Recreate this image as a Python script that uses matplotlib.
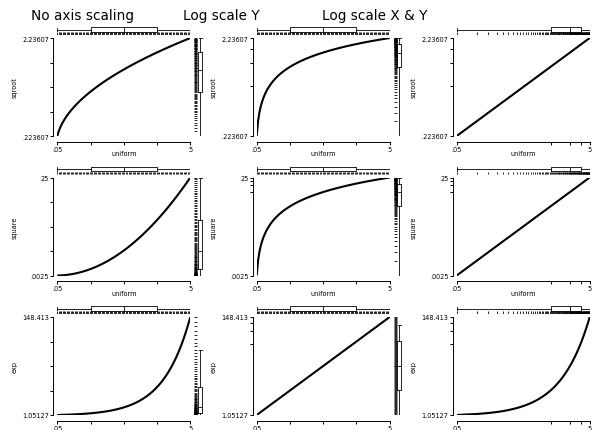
import matplotlib
matplotlib.use("Agg")
import matplotlib.pyplot as plt
import numpy as np
from matplotlib.ticker import NullLocator

# ---------------- data ----------------
uniform = [0.05, 0.10, 0.15, 0.20, 0.25, 0.30, 0.35, 0.40, 0.45, 0.50,
           0.55, 0.60, 0.65, 0.70, 0.75, 0.80, 0.85, 0.90, 0.95, 1.00,
           1.05, 1.10, 1.15, 1.20, 1.25, 1.30, 1.35, 1.40, 1.45, 1.50,
           1.55, 1.60, 1.65, 1.70, 1.75, 1.80, 1.85, 1.90, 1.95, 2.00,
           2.05, 2.10, 2.15, 2.20, 2.25, 2.30, 2.35, 2.40, 2.45, 2.50,
           2.55, 2.60, 2.65, 2.70, 2.75, 2.80, 2.85, 2.90, 2.95, 3.00,
           3.05, 3.10, 3.15, 3.20, 3.25, 3.30, 3.35, 3.40, 3.45, 3.50,
           3.55, 3.60, 3.65, 3.70, 3.75, 3.80, 3.85, 3.90, 3.95, 4.00,
           4.05, 4.10, 4.15, 4.20, 4.25, 4.30, 4.35, 4.40, 4.45, 4.50,
           4.55, 4.60, 4.65, 4.70, 4.75, 4.80, 4.85, 4.90, 4.95, 5.00]

sqroot = [0.223607, 0.3162, 0.3873, 0.4472, 0.5, 0.5477, 0.5916, 0.6325, 0.6708, 0.7071,
          0.7416, 0.7746, 0.8062, 0.8367, 0.8660, 0.8944, 0.9220, 0.9487, 0.9747, 1.0,
          1.0247, 1.0488, 1.0724, 1.0954, 1.1180, 1.1402, 1.1619, 1.1832, 1.2042, 1.2247,
          1.2450, 1.2649, 1.2845, 1.3038, 1.3229, 1.3416, 1.3601, 1.3784, 1.3964, 1.4142,
          1.4318, 1.4491, 1.4663, 1.4832, 1.5, 1.5166, 1.5330, 1.5492, 1.5652, 1.5811,
          1.5969, 1.6125, 1.6279, 1.6432, 1.6583, 1.6733, 1.6882, 1.7029, 1.7176, 1.7321,
          1.7464, 1.7607, 1.7748, 1.7889, 1.8028, 1.8166, 1.8303, 1.8439, 1.8574, 1.8708,
          1.8841, 1.8974, 1.9105, 1.9235, 1.9365, 1.9494, 1.9621, 1.9748, 1.9875, 2.0,
          2.0125, 2.0248, 2.0372, 2.0494, 2.0616, 2.0736, 2.0857, 2.0976, 2.1095, 2.1213,
          2.1331, 2.1448, 2.1564, 2.1679, 2.1794, 2.1909, 2.2023, 2.2136, 2.2249, 2.23607]

square = [0.0025, 0.01, 0.0225, 0.04, 0.0625, 0.09, 0.1225, 0.16, 0.2025, 0.25,
          0.3025, 0.36, 0.4225, 0.49, 0.5625, 0.64, 0.7225, 0.81, 0.9025, 1.0,
          1.1025, 1.21, 1.3225, 1.44, 1.5625, 1.69, 1.8225, 1.96, 2.1025, 2.25,
          2.4025, 2.56, 2.7225, 2.89, 3.0625, 3.24, 3.4225, 3.61, 3.8025, 4.0,
          4.2025, 4.41, 4.6225, 4.84, 5.0625, 5.29, 5.5225, 5.76, 6.0025, 6.25,
          6.5025, 6.76, 7.0225, 7.29, 7.5625, 7.84, 8.1225, 8.41, 8.7025, 9.0,
          9.3025, 9.61, 9.9225, 10.24, 10.5625, 10.89, 11.2225, 11.56, 11.9025, 12.25,
          12.6025, 12.96, 13.3225, 13.69, 14.0625, 14.44, 14.8225, 15.21, 15.6025, 16.0,
          16.4025, 16.81, 17.2225, 17.64, 18.0625, 18.49, 18.9225, 19.36, 19.8025, 20.25,
          20.7025, 21.16, 21.6225, 22.09, 22.5625, 23.04, 23.5225, 24.01, 24.5025, 25.0]

expo = [1.05127, 1.10517, 1.16183, 1.22140, 1.28403, 1.34986, 1.41907, 1.49182, 1.56831, 1.64872,
        1.73325, 1.82212, 1.91554, 2.01375, 2.11700, 2.22554, 2.33965, 2.45960, 2.58571, 2.71828,
        2.85765, 3.00417, 3.15819, 3.32012, 3.49034, 3.66930, 3.85743, 4.05520, 4.26311, 4.48169,
        4.71147, 4.95303, 5.20698, 5.47395, 5.75460, 6.04965, 6.35982, 6.68589, 7.02869, 7.38906,
        7.76790, 8.16617, 8.58486, 9.02501, 9.48774, 9.97418, 10.4856, 11.0232, 11.5883, 12.1825,
        12.8071, 13.4637, 14.1540, 14.8797, 15.6426, 16.4446, 17.2878, 18.1741, 19.1060, 20.0855,
        21.1153, 22.1980, 23.3361, 24.5325, 25.7903, 27.1126, 28.5027, 29.9641, 31.5004, 33.1155,
        34.8133, 36.5982, 38.4747, 40.4473, 42.5211, 44.7012, 46.9931, 49.4024, 51.9354, 54.5982,
        57.3975, 60.3403, 63.4340, 66.6863, 70.1054, 73.6998, 77.4785, 81.4509, 85.6269, 90.0171,
        94.6324, 99.4843, 104.585, 109.947, 115.584, 121.510, 127.740, 134.290, 141.175, 148.413]

row_names = ["sqroot", "square", "exp"]
row_ylabels = [[".223607", "2.23607"], [".0025", "25"], ["1.05127", "148.413"]]
x_name = "uniform"
x_ticklabels = [".05", "5"]
col_titles = ["No axis scaling", "Log scale Y", "Log scale X & Y"]
col_scales = [("linear", "linear"), ("linear", "log"), ("log", "log")]

# ---------------- layout ----------------
W, H = 594, 431
fig = plt.figure(figsize=(W / 100, H / 100), dpi=100)
fig.patch.set_facecolor("white")


def px_axes(left, top, width, height):
    return fig.add_axes([left / W, 1 - (top + height) / H, width / W, height / H])


lefts = [57.3, 256.7, 456.7]
tops = [39.0, 178.5, 318.0]
PW, PH = 133.0, 98.0
small = 4.7
LW = 0.7

series = [sqroot, square, expo]
x = np.array(uniform)

box_style = dict(
    boxprops=dict(color="black", linewidth=0.6),
    whiskerprops=dict(color="black", linewidth=0.6),
    capprops=dict(color="black", linewidth=0.6),
    medianprops=dict(color="black", linewidth=0.6),
)

for r in range(3):
    y = np.array(series[r])
    for c in range(3):
        xs, ys = col_scales[c]
        L, T = lefts[c], tops[r]

        # ---- main panel ----
        ax = px_axes(L, T, PW, PH)
        ax.set_xscale(xs)
        ax.set_yscale(ys)
        ax.plot(x, y, color="black", lw=1.5, solid_capstyle="butt")
        ax.set_xlim(x.min(), x.max())
        ax.set_ylim(y.min(), y.max())
        xt = np.linspace(x.min(), x.max(), 5)
        yt = np.linspace(y.min(), y.max(), 5)
        ax.set_xticks(xt, labels=[x_ticklabels[0], "", "", "", x_ticklabels[1]])
        ax.set_yticks(yt, labels=[row_ylabels[r][0], "", "", "", row_ylabels[r][1]])
        ax.xaxis.set_minor_locator(NullLocator())
        ax.yaxis.set_minor_locator(NullLocator())
        for s in ("top", "right"):
            ax.spines[s].set_visible(False)
        ax.spines["left"].set_position(("outward", 4 * 0.72))
        ax.spines["bottom"].set_position(("outward", 5.5 * 0.72))
        for s in ("left", "bottom"):
            ax.spines[s].set_linewidth(LW)
        ax.tick_params(direction="out", length=2.0, width=LW, labelsize=small, pad=1.2)
        ax.set_ylabel(row_names[r], fontsize=small, va="center")
        ax.yaxis.set_label_coords(-43 / PW, 0.5)
        ax.set_xlabel(x_name, fontsize=small, va="center")
        ax.xaxis.set_label_coords(0.5, -17.5 / PH)
        ax.patch.set_alpha(0)

        # ---- top strip: box + rug of x ----
        axt = px_axes(L, T - 12, PW, 9)
        axt.set_xscale(xs)
        axt.vlines(x, 0.03, 0.30, color="black", lw=0.6)
        axt.boxplot([x], positions=[0.61], widths=0.49, orientation="horizontal",
                    whis=1.5, showfliers=False, manage_ticks=False, capwidths=0.35,
                    **box_style)
        axt.set_xlim(x.min(), x.max())
        axt.set_ylim(0, 1)
        axt.axis("off")

        # ---- right strip: rug + box of y ----
        axr = px_axes(L + PW + 3, T, 10, PH)
        axr.set_yscale(ys)
        axr.hlines(y, 0.08, 0.40, color="black", lw=0.6)
        axr.boxplot([y], positions=[0.67], widths=0.40, orientation="vertical",
                    whis=1.5, showfliers=False, manage_ticks=False, capwidths=0.3,
                    **box_style)
        axr.set_ylim(y.min(), y.max())
        axr.set_xlim(0, 1)
        axr.axis("off")

# ---- column titles ----
title_x = [31, 183, 322]
for c in range(3):
    fig.text(title_x[c] / W, 1 - 20 / H, col_titles[c], fontsize=9.8,
             ha="left", va="baseline")

fig.savefig("out.png", dpi=100, facecolor="white")
